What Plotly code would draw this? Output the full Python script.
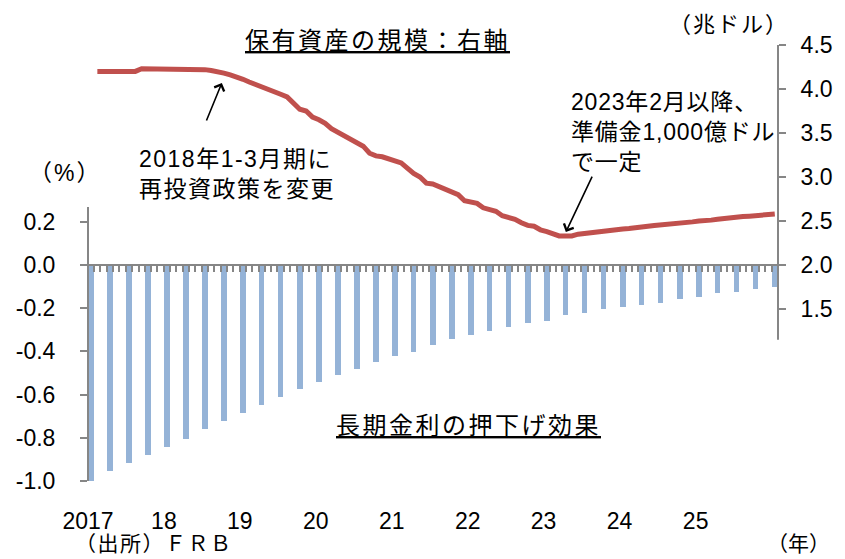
import pandas as pd
import plotly.graph_objects as go

# ---------------- data ----------------
# Quarterly bars: effect on long-term rates (%), 2017Q1 .. 2026Q1
bar_months = pd.date_range("2017-01-01", "2026-01-01", freq="QS").strftime("%Y-%m").tolist()
bar_values = [-1.00, -0.954, -0.918, -0.881, -0.844, -0.807, -0.761, -0.724,
              -0.687, -0.650, -0.612, -0.576, -0.540, -0.509, -0.483, -0.448,
              -0.420, -0.401, -0.372, -0.344, -0.326, -0.306, -0.289, -0.270,
              -0.261, -0.232, -0.224, -0.205, -0.196, -0.185, -0.177, -0.157,
              -0.150, -0.131, -0.123, -0.113, -0.103]

# Monthly holdings (trillion USD), 2017-02 .. 2026-01
line_values = [4.20, 4.20, 4.20, 4.20, 4.20, 4.20, 4.20,
               4.23, 4.23, 4.23, 4.23, 4.23, 4.23, 4.23, 4.23, 4.23, 4.23,
               4.22, 4.21, 4.20, 4.18, 4.16, 4.14, 4.11, 4.08, 4.05, 4.03,
               4.00, 3.97, 3.94, 3.91, 3.83, 3.77, 3.75, 3.68, 3.65, 3.61,
               3.55, 3.51, 3.47, 3.43, 3.39, 3.35, 3.27, 3.24, 3.23, 3.21,
               3.18, 3.16, 3.10, 3.04, 3.00, 2.93, 2.92, 2.89, 2.85, 2.83,
               2.80, 2.73, 2.72, 2.70, 2.65, 2.63, 2.61, 2.56, 2.54, 2.52,
               2.48, 2.45, 2.44, 2.40, 2.38, 2.35, 2.33, 2.33, 2.33, 2.35,
               2.36, 2.37, 2.375, 2.38, 2.39, 2.405, 2.41, 2.415, 2.42, 2.43,
               2.44, 2.45, 2.455, 2.46, 2.47, 2.48, 2.485, 2.49, 2.50, 2.50,
               2.51, 2.52, 2.53, 2.54, 2.545, 2.55, 2.555, 2.56, 2.565, 2.575,
               2.58]
line_months = pd.date_range("2017-02-01", periods=len(line_values), freq="MS").strftime("%Y-%m").tolist()

year_ticks = ["2017-01-01", "2018-01-01", "2019-01-01", "2020-01-01", "2021-01-01",
              "2022-01-01", "2023-01-01", "2024-01-01", "2025-01-01"]
year_labels = ["2017", "18", "19", "20", "21", "22", "23", "24", "25"]
left_ticks = [-1.0, -0.8, -0.6, -0.4, -0.2, 0.0, 0.2]
right_ticks = [1.5, 2.0, 2.5, 3.0, 3.5, 4.0, 4.5]

# ---------------- style ----------------
FONT = "Liberation Sans, Arial, Noto Sans CJK JP"
GRAY = "#868686"
BAR_C = "#95B3D7"
LINE_C = "#C0504D"
X_RANGE = ["2017-01-01", "2026-02-01"]
Y_RANGE = [-1.0, 1.0185]
Y2_RANGE = [-0.4545, 4.5]

fig = go.Figure()
fig.add_trace(go.Bar(
    x=bar_months, y=bar_values, xperiod="M1", xperiodalignment="middle",
    width=27 * 86400000, marker=dict(color=BAR_C, line=dict(width=0)),
    xaxis="x", yaxis="y", showlegend=False))
fig.add_trace(go.Scatter(
    x=line_months, y=line_values, xperiod="M1", xperiodalignment="middle",
    mode="lines", line=dict(color=LINE_C, width=5),
    xaxis="x2", yaxis="y2", showlegend=False))

fig.update_layout(
    width=845, height=559,
    margin=dict(l=88, r=61, t=45, b=78),
    paper_bgcolor="white", plot_bgcolor="white",
    font=dict(family=FONT, size=22, color="black"),
    bargap=0,
    xaxis=dict(type="date", range=X_RANGE, tickvals=year_ticks, ticktext=year_labels,
               showgrid=False, showline=False, zeroline=False, ticks="",
               ticklabelstandoff=24, tickfont=dict(size=23)),
    xaxis2=dict(type="date", range=X_RANGE, overlaying="x", anchor="free",
                position=216 / 436, showgrid=False, zeroline=False,
                showline=True, linecolor=GRAY, linewidth=2,
                ticks="outside", ticklen=6, tickwidth=1.5, tickcolor=GRAY,
                tick0="2017-01-01", dtick="M1", showticklabels=False),
    yaxis=dict(range=Y_RANGE, tickvals=left_ticks,
               ticktext=[f"{v:.1f}" for v in left_ticks],
               showgrid=False, zeroline=False, showline=False,
               ticks="outside", ticklen=7, tickwidth=1.5, tickcolor=GRAY,
               ticklabelstandoff=20, tickfont=dict(size=23)),
    yaxis2=dict(range=Y2_RANGE, overlaying="y", side="right", anchor="x2",
                tickvals=right_ticks, ticktext=[f"{v:.1f}" for v in right_ticks],
                showgrid=False, zeroline=False, showline=False,
                ticks="outside", ticklen=7, tickwidth=1.5, tickcolor=GRAY,
                ticklabelstandoff=10, tickfont=dict(size=23)),
)

# partial axis lines
fig.add_shape(type="line", xref="paper", yref="y", x0=0, x1=0, y0=-1.0, y1=0.268,
              line=dict(color=GRAY, width=2))
fig.add_shape(type="line", xref="paper", yref="y2", x0=1, x1=1, y0=1.15, y1=4.5,
              line=dict(color=GRAY, width=2))

def txt(text, x, y, xanchor="center", size=22, spacing=0):
    if spacing:
        text = "<br>".join(f"<span style='letter-spacing:{spacing}px'>{t}</span>"
                           for t in text.split("<br>"))
    fig.add_annotation(text=text, xref="paper", yref="paper", x=x, y=y,
                       xanchor=xanchor, yanchor="middle", showarrow=False,
                       align="left", font=dict(size=size, family=FONT))

txt("<u>保有資産の規模：右軸</u>", 0.4195, 1.01, size=24, spacing=2.5)
txt("<u>長期金利の押下げ効果</u>", 0.5517, 0.128, size=24, spacing=2.5)
txt("2018年1-3月期に<br>再投資政策を変更", 0.0704, 0.704, xanchor="left", size=23, spacing=1.5)
txt("2023年2月以降、<br>準備金1,000億ドル<br>で一定", 0.6968, 0.8016, xanchor="left", size=23, spacing=0.8)
txt("（%）", -0.033, 0.706, size=23, spacing=2)
txt("（兆ドル）", 0.9296, 1.046, size=22, spacing=2)
txt("（出所）ＦＲＢ", -0.022, -0.143, xanchor="left", size=21, spacing=1.5)
txt("（年）", 1.03, -0.143, size=21)

def arrow(x, y, ax, ay):
    fig.add_annotation(text="", xref="paper", yref="paper", x=x, y=y, ax=ax, ay=ay,
                       showarrow=True, arrowhead=4, arrowsize=1.3, arrowwidth=1.6,
                       arrowcolor="black")

arrow(0.194, 0.913, -16, 39)
arrow(0.6925, 0.571, 27, -57)

fig.write_html("out.html")
